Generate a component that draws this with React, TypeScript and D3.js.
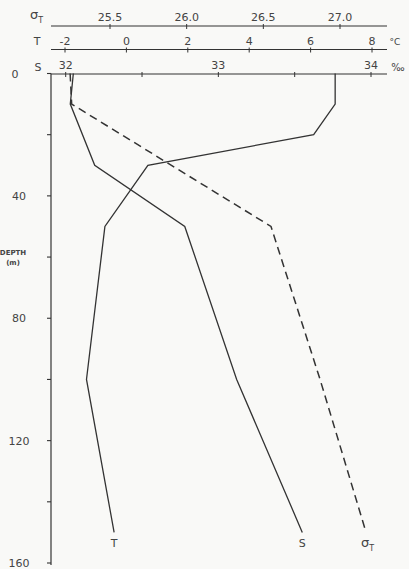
import { useEffect, useRef } from 'react';
import * as d3 from 'd3';

// Temperature profile (°C)
const tDepths = [0, 10, 20, 30, 50, 100, 150];
const tValues = [6.8, 6.8, 6.1, 0.7, -0.7, -1.3, -0.4];

// Salinity profile (‰)
const sDepths = [0, 10, 30, 50, 100, 150];
const sValues = [32.05, 32.03, 32.19, 32.78, 33.12, 33.55];

// Density sigma-T profile
const sigmaDepths = [0, 10, 50, 100, 150];
const sigmaValues = [25.24, 25.25, 26.55, 26.87, 27.17];

const depthTicks = [0, 20, 40, 60, 80, 100, 120, 140, 160];
const depthLabels = [0, 40, 80, 120, 160];
const tTicks = [-2, 0, 2, 4, 6, 8];
const sTicks = [32, 32.5, 33, 33.5, 34];
const sLabels = [32, 33, 34];
const sigmaTicks = [25.5, 26.0, 26.5, 27.0];

const W = 409;
const H = 569;

export default function App() {
    const svgRef = useRef<SVGSVGElement>(null);

    useEffect(() => {
        if (!svgRef.current) return;
        const svg = d3.select(svgRef.current);
        svg.selectAll('*').remove();

        const ink = '#333';
        const font = '"DejaVu Sans", sans-serif';

        svg.append('rect').attr('width', W).attr('height', H).attr('fill', '#f9f9f7');

        const y = d3.scaleLinear().domain([0, 160]).range([73.5, 563]);
        const xT = d3.scaleLinear().domain([-2, 8]).range([65, 372]);
        const xS = d3.scaleLinear().domain([32, 34]).range([65.7, 371]);
        const xSig = d3.scaleLinear().domain([25.5, 27.0]).range([110, 340]);

        const axisLeft = 51;
        const axisRight = 387;

        const txt = (x: number, yy: number, s: string, size = 11, anchor = 'middle') =>
            svg
                .append('text')
                .attr('x', x)
                .attr('y', yy)
                .attr('text-anchor', anchor)
                .attr('font-family', font)
                .attr('font-size', size)
                .attr('fill', '#444')
                .text(s);

        // sigma with subscript T
        const sigmaText = (x: number, yy: number, anchor = 'start') => {
            const t = svg
                .append('text')
                .attr('x', x)
                .attr('y', yy)
                .attr('text-anchor', anchor)
                .attr('font-family', font)
                .attr('font-size', 13)
                .attr('fill', '#444');
            t.append('tspan').text('σ');
            t.append('tspan').attr('dy', 4).attr('font-size', 8).text('T');
            return t;
        };

        // Top scales: sigma-T, T, S
        const topAxes = [
            { yy: 26, scale: xSig, ticks: sigmaTicks, labels: sigmaTicks, fmt: d3.format('.1f') },
            { yy: 49.5, scale: xT, ticks: tTicks, labels: tTicks, fmt: (d: number) => (d < 0 ? '-' + Math.abs(d) : String(d)) },
            { yy: 74, scale: xS, ticks: sTicks, labels: sLabels, fmt: d3.format('d') },
        ];

        topAxes.forEach((a) => {
            svg.append('line')
                .attr('x1', axisLeft)
                .attr('x2', axisRight)
                .attr('y1', a.yy)
                .attr('y2', a.yy)
                .attr('stroke', ink)
                .attr('stroke-width', 1.1);
            a.ticks.forEach((t) => {
                svg.append('line')
                    .attr('x1', a.scale(t))
                    .attr('x2', a.scale(t))
                    .attr('y1', a.yy - 2)
                    .attr('y2', a.yy + 3)
                    .attr('stroke', ink)
                    .attr('stroke-width', 1);
            });
            a.labels.forEach((t) => {
                txt(a.scale(t), a.yy - 5, (a.fmt as any)(t), 11);
            });
        });

        // Axis names and units
        sigmaText(30, 19);
        txt(37, 45, 'T', 11);
        txt(38, 71, 'S', 11);
        txt(395, 45, '°C', 9);
        txt(398, 71, '‰', 10);

        // Depth axis
        svg.append('line')
            .attr('x1', axisLeft)
            .attr('x2', axisLeft)
            .attr('y1', y(0))
            .attr('y2', y(160) + 2)
            .attr('stroke', ink)
            .attr('stroke-width', 1.2);
        depthTicks.forEach((d) => {
            svg.append('line')
                .attr('x1', axisLeft - 4)
                .attr('x2', axisLeft)
                .attr('y1', y(d))
                .attr('y2', y(d))
                .attr('stroke', ink)
                .attr('stroke-width', 1.1);
        });
        depthLabels.forEach((d) => {
            txt(d === 0 ? 15 : 19, y(d) + 4, String(d), 11);
        });
        txt(13, 255, 'DEPTH', 7).attr('font-weight', 'bold');
        txt(13, 265, '(m)', 7).attr('font-weight', 'bold');

        // Profiles
        const line = d3
            .line<[number, number]>()
            .x((d) => d[0])
            .y((d) => d[1]);

        const series = [
            { pts: tDepths.map((d, i) => [xT(tValues[i]), y(d)] as [number, number]), dash: null, w: 1.3 },
            { pts: sDepths.map((d, i) => [xS(sValues[i]), y(d)] as [number, number]), dash: null, w: 1.3 },
            { pts: sigmaDepths.map((d, i) => [xSig(sigmaValues[i]), y(d)] as [number, number]), dash: '8,5', w: 1.5 },
        ];

        series.forEach((s) => {
            svg.append('path')
                .datum(s.pts)
                .attr('d', line)
                .attr('fill', 'none')
                .attr('stroke', ink)
                .attr('stroke-width', s.w)
                .attr('stroke-dasharray', s.dash);
        });

        // Curve labels at the bottom
        const bottomY = y(150) + 15;
        txt(xT(tValues[tValues.length - 1]), bottomY, 'T', 11);
        txt(xS(sValues[sValues.length - 1]), bottomY, 'S', 11);
        sigmaText(xSig(sigmaValues[sigmaValues.length - 1]) - 5, bottomY);
    }, []);

    return (
        <div style={{ position: 'absolute', left: 0, top: 0 }}>
            <svg ref={svgRef} width={W} height={H} style={{ display: 'block' }} />
        </div>
    );
}
